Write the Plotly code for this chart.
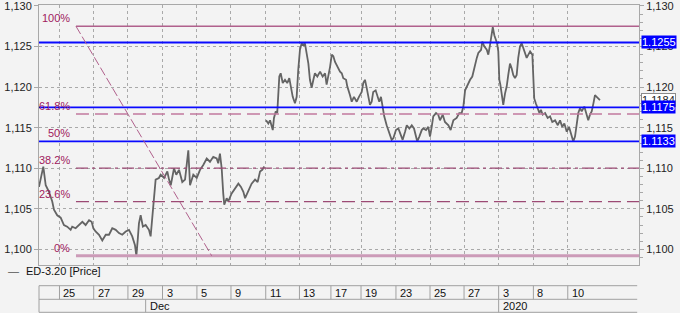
import plotly.graph_objects as go

# ---------------- data ----------------
# time in trading days from 25 Nov session start; price of ED-3.20
t_vals = [-1.19, -0.94, -0.80, -0.61, -0.42, -0.32, -0.13, 0.07, 0.26, 0.45, 0.65, 0.74, 0.94, 1.13, 1.33,
          1.52, 1.72, 1.87, 1.97, 2.10, 2.30, 2.49, 2.69, 2.88, 3.07, 3.27, 3.46, 3.65, 3.85, 4.04, 4.23,
          4.39, 4.47, 4.55, 4.62, 4.72, 4.85, 5.01, 5.20, 5.30, 5.40, 5.49, 5.59, 5.78, 5.88, 6.08, 6.27,
          6.37, 6.47, 6.66, 6.79, 6.95, 7.14, 7.30, 7.49, 7.59, 7.78, 7.98, 8.17, 8.36, 8.56, 8.75, 8.94,
          9.14, 9.23, 9.33, 9.43, 9.52, 9.58, 9.72, 9.81, 10.01, 10.20, 10.40, 10.55, 10.69, 10.79, 10.98,
          11.17, 11.37, 11.52, 11.66, 11.79, 11.91, None,
          12.01, 12.14, 12.24, 12.34, 12.40, 12.47, 12.57, 12.66, 12.72, 12.78, 12.86, 12.98, 13.11, 13.24,
          13.36, 13.46, 13.56, 13.69, 13.79, 13.88, 13.98, 14.08, 14.17, 14.27, 14.37, 14.47, 14.56, 14.66,
          14.76, 14.85, 14.99, 15.15, 15.30, 15.44, 15.53, 15.63, 15.73, 15.83, 15.92, 16.02, 16.12, 16.21,
          16.31, 16.41, 16.50, 16.66, 16.73, 16.89, 16.99, 17.12, 17.28, 17.41, 17.57, 17.66, 17.76, 17.86,
          17.95, 18.05, 18.15, 18.24, 18.38, 18.48, 18.59, 18.69, 18.79, 18.88, 19.02, 19.12, 19.22, 19.31,
          19.41, 19.56, 19.70, 19.80, 19.95, 20.09, 20.19, 20.34, 20.48, 20.61, 20.73, 20.80, 20.92, 21.06,
          21.15, 21.31, 21.44, 21.54, 21.64, 21.73, 21.89, 22.02, 22.12, 22.28, 22.41, 22.61, 22.74, 22.90,
          23.09, 23.24, 23.38, 23.48, 23.58, 23.73, 23.87, 24.00, 24.12, 24.26, 24.35, 24.51, 24.58, 24.70,
          24.84, 24.93, 25.03, 25.13, 25.19, 25.28, 25.36, 25.44, 25.51, 25.57, 25.63, 25.71, 25.80, 25.90,
          26.00, 26.09, 26.19, 26.29, 26.38, 26.48, 26.58, 26.67, 26.77, 26.87, 26.97, 27.06, 27.16, 27.26,
          27.36, 27.49, 27.55, 27.60, 27.69, 27.78, 27.90, 27.99, 28.09, 28.23, 28.38, 28.52, 28.65, 28.81,
          28.97, 29.10, 29.23, 29.35, 29.49, 29.62, 29.78, 29.87, 29.97, 30.07, 30.16, 30.26, 30.36, 30.51,
          30.65, 30.74, 30.84, 30.94, 31.04, 31.13, 31.23, 31.33, 31.42]
price = [1.1077, 1.1102, 1.1079, 1.1071, 1.1059, 1.1049, 1.1042, 1.1039, 1.1030, 1.1028, 1.1024, 1.1028, 1.1026,
         1.1030, 1.1034, 1.1030, 1.1036, 1.1034, 1.1026, 1.1022, 1.1018, 1.1011, 1.1018, 1.1018, 1.1026, 1.1024,
         1.1020, 1.1018, 1.1022, 1.1024, 1.1016, 1.1005, 1.0992, 1.1012, 1.1032, 1.1042, 1.1028, 1.1030, 1.1024,
         1.1016, 1.1044, 1.1065, 1.1086, 1.1088, 1.1092, 1.1088, 1.1096, 1.1086, 1.1079, 1.1100, 1.1092, 1.1098,
         1.1083, 1.1086, 1.1122, 1.1079, 1.1092, 1.1088, 1.1098, 1.1104, 1.1112, 1.1108, 1.1114, 1.1112, 1.1106,
         1.1118, 1.1100, 1.1069, 1.1055, 1.1063, 1.1059, 1.1069, 1.1075, 1.1081, 1.1077, 1.1071, 1.1063, 1.1073,
         1.1081, 1.1086, 1.1083, 1.1096, 1.1098, 1.1102, None,
         1.1159, 1.1155, 1.1159, 1.1149, 1.1147, 1.1162, 1.1170, 1.1168, 1.1188, 1.1213, 1.1217, 1.1205, 1.1209,
         1.1205, 1.1211, 1.1199, 1.1188, 1.1180, 1.1188, 1.1221, 1.1246, 1.1254, 1.1252, 1.1254, 1.1240, 1.1229,
         1.1209, 1.1199, 1.1209, 1.1217, 1.1213, 1.1219, 1.1213, 1.1217, 1.1203, 1.1213, 1.1225, 1.1240, 1.1238,
         1.1231, 1.1227, 1.1223, 1.1219, 1.1217, 1.1211, 1.1209, 1.1201, 1.1190, 1.1182, 1.1188, 1.1182, 1.1188,
         1.1194, 1.1205, 1.1209, 1.1199, 1.1188, 1.1178, 1.1182, 1.1194, 1.1196, 1.1188, 1.1182, 1.1188, 1.1174,
         1.1164, 1.1153, 1.1147, 1.1141, 1.1135, 1.1137, 1.1147, 1.1149, 1.1143, 1.1135, 1.1145, 1.1153, 1.1149,
         1.1153, 1.1149, 1.1137, 1.1133, 1.1139, 1.1147, 1.1149, 1.1147, 1.1151, 1.1139, 1.1151, 1.1164, 1.1168,
         1.1166, 1.1159, 1.1166, 1.1157, 1.1153, 1.1147, 1.1159, 1.1162, 1.1168, 1.1168, 1.1176, 1.1196, 1.1203,
         1.1209, 1.1213, 1.1225, 1.1236, 1.1242, 1.1246, 1.1256, 1.1250, 1.1246, 1.1240, 1.1252, 1.1264, 1.1274,
         1.1264, 1.1260, 1.1254, 1.1244, 1.1209, 1.1203, 1.1188, 1.1178, 1.1192, 1.1201, 1.1215, 1.1229, 1.1223,
         1.1215, 1.1211, 1.1215, 1.1236, 1.1250, 1.1254, 1.1248, 1.1242, 1.1236, 1.1240, 1.1244, 1.1240, 1.1213,
         1.1186, 1.1180, 1.1174, 1.1168, 1.1172, 1.1166, 1.1168, 1.1162, 1.1164, 1.1157, 1.1159, 1.1153, 1.1159,
         1.1151, 1.1155, 1.1145, 1.1151, 1.1139, 1.1133, 1.1139, 1.1155, 1.1168, 1.1174, 1.1170, 1.1176, 1.1166,
         1.1159, 1.1166, 1.1170, 1.1180, 1.1190, 1.1188, 1.1186, 1.1184]
last_price = 1.1184

# date table (top row) and month row
day_ticks = [0, 1.99, 3.98, 5.99, 7.99, 9.97, 11.99, 13.95, 15.78, 17.53, 19.56, 21.54, 23.52, 25.53, 27.55, 29.55]
day_labels = ["25", "27", "29", "3", "5", "9", "11", "13", "17", "19", "23", "25", "27", "3", "8", "10"]
month_ticks = [5.01, 25.53]
month_labels = ["Dec", "2020"]

# horizontal support/resistance lines
hlines = [1.1255, 1.1175, 1.1133]

# Fibonacci retracement
fib_high = 1.1275
fib_low = 1.0992
fib_t_start = 0.96
fib_t_diag_end = 8.85
fib_levels = [1.0, 0.618, 0.5, 0.382, 0.236, 0.0]
fib_labels = ["100%", "61.8%", "50%", "38.2%", "23.6%", "0%"]

y_ticks = [1.100, 1.105, 1.110, 1.115, 1.120, 1.125, 1.130]
x_range = [-1.19, 33.69]
y_range = [1.09807, 1.13012]

# ---------------- styles ----------------
BG = "#f3f3f3"
FONT = "Liberation Sans, Arial, sans-serif"
FS = 11
GRID = "#a9a9a9"
FRAME = "#a8a8a8"
FIB_TXT = "#a0205e"
fib_styles = {
    "100%": dict(color="#b0608c", width=1.5, dash="solid"),
    "61.8%": dict(color="#c27a9e", width=1.5, dash="13px,6px"),
    "50%": None,
    "38.2%": dict(color="#9c4a74", width=1.3, dash="12px,4px,3px,4px"),
    "23.6%": dict(color="#9c4a74", width=1.3, dash="13px,6px"),
    "0%": dict(color="#cc9bb8", width=3, dash="solid"),
}

fig = go.Figure()
fig.add_trace(go.Scatter(x=t_vals, y=price, mode="lines", line=dict(color="#646464", width=1.8),
                         connectgaps=False, showlegend=False, hoverinfo="skip"))
fig.add_trace(go.Scatter(x=t_vals, y=price, mode="lines", line=dict(width=0), opacity=0,
                         yaxis="y2", showlegend=False, hoverinfo="skip"))

shapes = []
annotations = []

# blue horizontal lines
for v in hlines:
    shapes.append(dict(type="line", xref="paper", x0=0, x1=1, yref="y", y0=v, y1=v,
                       line=dict(color="#0a0aff", width=1.8), layer="above"))

# fib lines
rng = fib_high - fib_low
for lev, lab in zip(fib_levels, fib_labels):
    v = fib_low + lev * rng
    st = fib_styles[lab]
    if st is not None:
        shapes.append(dict(type="line", xref="x", x0=fib_t_start, x1=x_range[1], yref="y", y0=v, y1=v,
                           line=st, layer="above"))
    annotations.append(dict(x=fib_t_start, y=v, xref="x", yref="y", text=lab, showarrow=False,
                            xanchor="right", yanchor="bottom", xshift=-4, yshift=0,
                            font=dict(family=FONT, size=FS, color=FIB_TXT)))
# diagonal trend line
shapes.append(dict(type="line", xref="x", yref="y", x0=fib_t_start, y0=fib_high, x1=fib_t_diag_end, y1=fib_low,
                   line=dict(color="#b0608c", width=1, dash="9px,3px"), layer="above"))

# right-side value boxes
annotations.append(dict(xref="paper", x=1, yref="y", y=last_price, text="1.1184", showarrow=False,
                        xanchor="left", yanchor="middle", xshift=2, bgcolor="#ffffff",
                        bordercolor="#8a8a8a", borderwidth=1, borderpad=0,
                        font=dict(family=FONT, size=FS, color="#222222")))
for v in hlines:
    annotations.append(dict(xref="paper", x=1, yref="y", y=v, text=f"{v:.4f}", showarrow=False,
                            xanchor="left", yanchor="middle", xshift=2, bgcolor="#0000ff",
                            borderpad=0, font=dict(family=FONT, size=FS, color="#ffffff")))

# legend text
annotations.append(dict(xref="paper", x=-0.055, yref="paper", y=0, yshift=-6, text="—", showarrow=False,
                        xanchor="left", yanchor="middle", font=dict(family=FONT, size=FS, color="#555555")))
annotations.append(dict(xref="paper", x=-0.025, yref="paper", y=0, yshift=-6, text="ED-3.20 [Price]",
                        showarrow=False, xanchor="left", yanchor="middle",
                        font=dict(family=FONT, size=FS, color="#111111")))

# bottom date table
TL = "#a0a0a0"
row_top, row_mid, row_bot = -20.7, -34.3, -47.3
for yy in (row_top, row_mid, row_bot):
    shapes.append(dict(type="line", xref="paper", x0=0, x1=0.997, yref="paper", ysizemode="pixel", yanchor=0,
                       y0=yy, y1=yy, line=dict(color=TL, width=1)))
shapes.append(dict(type="line", xref="paper", x0=0, x1=0, yref="paper", ysizemode="pixel", yanchor=0,
                   y0=row_top, y1=row_bot, line=dict(color=TL, width=1)))
for tv, lab in zip(day_ticks, day_labels):
    shapes.append(dict(type="line", xref="x", x0=tv, x1=tv, yref="paper", ysizemode="pixel", yanchor=0,
                       y0=row_top, y1=row_mid, line=dict(color=TL, width=1)))
    annotations.append(dict(xref="x", x=tv, yref="paper", y=0, yshift=(row_top + row_mid) / 2, text=lab,
                            showarrow=False, xanchor="left", yanchor="middle", xshift=2,
                            font=dict(family=FONT, size=FS, color="#111111")))
for tv, lab in zip(month_ticks, month_labels):
    shapes.append(dict(type="line", xref="x", x0=tv, x1=tv, yref="paper", ysizemode="pixel", yanchor=0,
                       y0=row_mid, y1=row_bot, line=dict(color=TL, width=1)))
    annotations.append(dict(xref="x", x=tv, yref="paper", y=0, yshift=(row_mid + row_bot) / 2, text=lab,
                            showarrow=False, xanchor="left", yanchor="middle", xshift=2,
                            font=dict(family=FONT, size=FS, color="#111111")))

fig.update_layout(
    width=680, height=313,
    margin=dict(l=39, r=41, t=5, b=48, autoexpand=False),
    paper_bgcolor=BG, plot_bgcolor=BG,
    separators=",.",
    font=dict(family=FONT, size=FS, color="#222222"),
    showlegend=False,
    shapes=shapes, annotations=annotations,
    xaxis=dict(range=x_range, tickvals=day_ticks, showticklabels=False, ticks="", automargin=False,
               showgrid=True, gridcolor=GRID, griddash="dot", gridwidth=1, zeroline=False,
               showline=True, linecolor=FRAME, linewidth=1, mirror=True),
    yaxis=dict(range=y_range, tickvals=y_ticks, tickformat=".3f", ticks="outside", ticklen=4,
               automargin=False, tickfont=dict(size=FS), ticklabeloverflow="allow",
               tickcolor=FRAME, showgrid=True, gridcolor=GRID, griddash="dot", gridwidth=1,
               zeroline=False, showline=True, linecolor=FRAME, side="left"),
    yaxis2=dict(range=y_range, tickvals=y_ticks, tickformat=".3f", ticks="outside", ticklen=4,
                automargin=False, tickfont=dict(size=FS), ticklabeloverflow="allow",
                tickcolor=FRAME, overlaying="y", side="right", showgrid=False, zeroline=False,
                showline=True, linecolor=FRAME,
                minor=dict(dtick=0.001, tick0=1.100, ticks="outside", ticklen=3, tickcolor=FRAME)),
)

fig.write_html("out.html")
